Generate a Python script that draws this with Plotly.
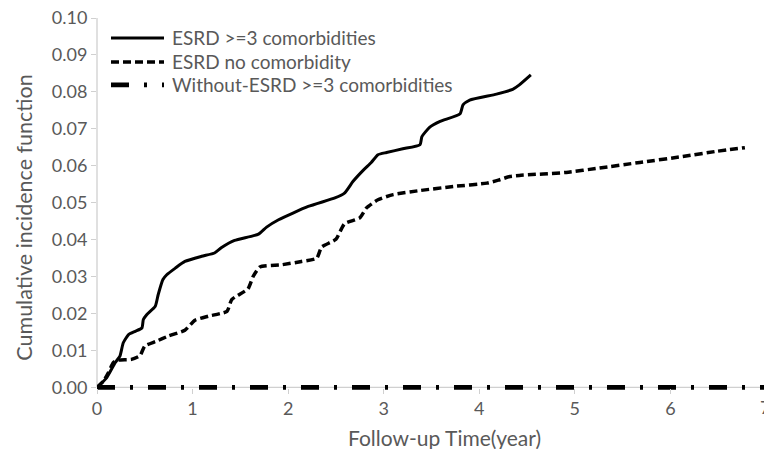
import plotly.graph_objects as go

# Cumulative incidence over follow-up time (years)
esrd_3_time = [0.0, 0.10, 0.19, 0.24, 0.275, 0.33, 0.40, 0.47, 0.485, 0.52, 0.61, 0.64,
               0.69, 0.73, 0.82, 0.92, 1.095, 1.23, 1.30, 1.44, 1.69, 1.775, 1.90,
               2.21, 2.49, 2.59, 2.68, 2.79, 2.87, 2.94, 3.03, 3.20, 3.38, 3.40, 3.48,
               3.59, 3.80, 3.83, 3.90, 4.18, 4.35, 4.42, 4.54]
esrd_3_cif = [0.0, 0.0026, 0.0067, 0.0085, 0.0121, 0.0143, 0.0152, 0.0161, 0.0184, 0.0197,
              0.0220, 0.0251, 0.0292, 0.0305, 0.0323, 0.0341, 0.0355, 0.0364, 0.0378,
              0.0398, 0.0415, 0.0434, 0.0454, 0.0490, 0.0513, 0.0526, 0.0558, 0.0589,
              0.0609, 0.0630, 0.0636, 0.0646, 0.0657, 0.0679, 0.0704, 0.0720, 0.0741,
              0.0765, 0.0778, 0.0794, 0.0807, 0.0819, 0.0846]

esrd_0_time = [0.0, 0.07, 0.12, 0.17, 0.22, 0.36, 0.45, 0.50, 0.62, 0.745, 0.92, 1.025,
               1.165, 1.36, 1.41, 1.58, 1.635, 1.705, 1.93, 2.14, 2.30, 2.35, 2.50,
               2.59, 2.75, 2.82, 2.94, 3.10, 3.38, 3.73, 4.08, 4.20, 4.32, 4.42, 4.91,
               5.26, 5.68, 6.13, 6.48, 6.78]
esrd_0_cif = [0.0, 0.0018, 0.0040, 0.0067, 0.0074, 0.0076, 0.0086, 0.0112, 0.0125, 0.0139,
              0.0155, 0.0182, 0.0193, 0.0206, 0.0238, 0.0267, 0.0301, 0.0326, 0.0332,
              0.0341, 0.0350, 0.0380, 0.0401, 0.0443, 0.0459, 0.0486, 0.0508, 0.0522,
              0.0533, 0.0544, 0.0553, 0.0561, 0.0571, 0.0574, 0.0582, 0.0594, 0.0609,
              0.0625, 0.0639, 0.0649]

no_esrd_3_time = [0.0, 6.98]
no_esrd_3_cif = [0.0, 0.0]

series_names = ["ESRD >=3 comorbidities", "ESRD no comorbidity",
                "Without-ESRD >=3 comorbidities"]

x_ticks = [0, 1, 2, 3, 4, 5, 6]
y_ticks = [0.00, 0.01, 0.02, 0.03, 0.04, 0.05, 0.06, 0.07, 0.08, 0.09, 0.10]

W, H = 764, 449
ML, MR, MT, MB = 97, 0, 18, 55.5
X_RANGE = [0, 6.98]
Y_RANGE = [-0.0015, 0.10]

FONT = "Lato"
GREY = "#595959"
AXIS_GREY = "#d0d0d0"
INK = "#000000"

styles = [
    dict(color=INK, width=3, dash="solid"),
    dict(color=INK, width=3.5, dash="8px,4px"),
    dict(color=INK, width=4.8, dash="18px,15px,3px,15px"),
]


def paper_x(px):
    return (px - ML) / (W - ML - MR)


def paper_y(py):
    return (H - MB - py) / (H - MT - MB)


fig = go.Figure()
for xs, ys, st in [(esrd_3_time, esrd_3_cif, styles[0]),
                   (esrd_0_time, esrd_0_cif, styles[1]),
                   (no_esrd_3_time, no_esrd_3_cif, styles[2])]:
    fig.add_trace(go.Scatter(
        x=xs, y=ys, mode="lines",
        line=dict(color=st["color"], width=st["width"], dash=st["dash"],
                  shape="spline", smoothing=0.5),
        showlegend=False, hoverinfo="skip",
    ))

shapes = [
    # axis lines
    dict(type="line", xref="paper", yref="y", x0=0, x1=0, y0=0, y1=0.10,
         line=dict(color=AXIS_GREY, width=1.3), layer="below"),
    dict(type="line", xref="paper", yref="y", x0=0, x1=1, y0=0, y1=0,
         line=dict(color=AXIS_GREY, width=1.3), layer="below"),
]
annotations = []

# legend block
legend_rows = [38, 62, 85]
for name, st, ry in zip(series_names, styles, legend_rows):
    shapes.append(dict(type="line", xref="paper", yref="paper",
                       x0=paper_x(111), x1=paper_x(164), y0=paper_y(ry), y1=paper_y(ry),
                       line=dict(color=st["color"], width=st["width"], dash=st["dash"])))
    annotations.append(dict(xref="paper", yref="paper", x=paper_x(170), y=paper_y(ry),
                            xanchor="left", yanchor="middle", text=name, showarrow=False,
                            font=dict(family=FONT, size=19, color=GREY)))

# axis titles
annotations.append(dict(xref="paper", yref="paper", x=paper_x(444), y=paper_y(438),
                        xanchor="center", yanchor="middle", text="Follow-up Time(year)",
                        showarrow=False, font=dict(family=FONT, size=21, color=GREY)))
annotations.append(dict(xref="paper", yref="paper", x=paper_x(24), y=paper_y(218),
                        xanchor="center", yanchor="middle",
                        text="Cumulative incidence function", textangle=-90,
                        showarrow=False, font=dict(family=FONT, size=21.5, color=GREY)))
# last tick label sits on the right edge of the figure
annotations.append(dict(xref="paper", yref="paper", x=paper_x(765), y=paper_y(408),
                        xanchor="center", yanchor="middle", text="7", showarrow=False,
                        font=dict(family=FONT, size=18, color=GREY)))

fig.update_layout(
    width=W, height=H,
    margin=dict(l=ML, r=MR, t=MT, b=MB, pad=0),
    paper_bgcolor="white", plot_bgcolor="white",
    font=dict(family=FONT, color=GREY),
    xaxis=dict(range=X_RANGE, tickvals=x_ticks, ticktext=[str(v) for v in x_ticks],
               showgrid=False, zeroline=False, showline=False,
               ticks="outside", ticklen=5, tickcolor=AXIS_GREY, tickwidth=1.3,
               tickfont=dict(family=FONT, size=18, color=GREY),
               anchor="free", position=paper_y(388)),
    yaxis=dict(range=Y_RANGE, tickvals=y_ticks, tickformat=".2f",
               showgrid=False, zeroline=False, showline=False,
               ticks="outside", ticklen=5, tickcolor=AXIS_GREY, tickwidth=1.3,
               tickfont=dict(family=FONT, size=18, color=GREY)),
    shapes=shapes,
    annotations=annotations,
)

fig.write_html("out.html")
